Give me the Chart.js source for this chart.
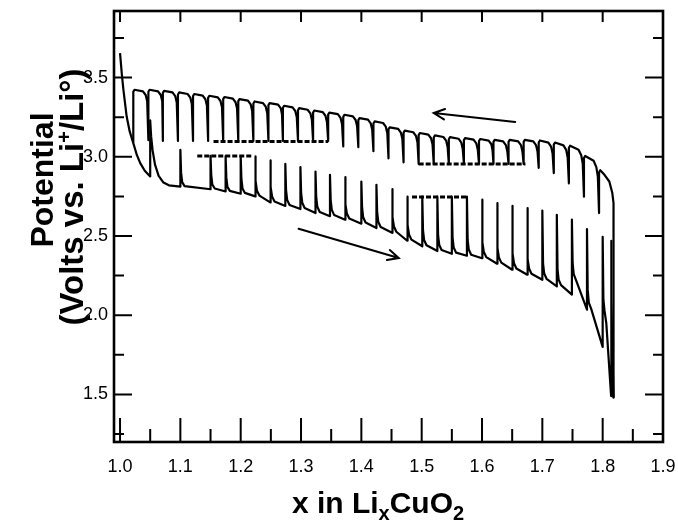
<!DOCTYPE html>
<html>
<head>
<meta charset="utf-8">
<script src="https://cdn.jsdelivr.net/npm/chart.js@4.4.1/dist/chart.umd.min.js"></script>
<style>
html, body { margin: 0; padding: 0; background: #fff; }
#wrap { width: 678px; height: 528px; }
</style>
</head>
<body>
<div id="wrap"><canvas id="myChart" width="678" height="528"></canvas></div>
<script>
// discharge (x going up): [x, volts]
var dischargePts = [
    [1.0,3.654],[1.003,3.52],[1.0056,3.423],[1.011,3.254],[1.016,3.16],[1.022,3.086],[1.028,3.01],[1.0335,2.96],[1.041,2.912],[1.050,2.876],
    [1.050,3.23],[1.0515,3.13],[1.054,3.04],[1.058,2.95],[1.064,2.88],[1.072,2.837],[1.081,2.82],[1.100,2.812],
    [1.100,3.044],[1.1012,2.90],[1.103,2.84],[1.107,2.815],[1.150,2.795],
    [1.150,3.006],[1.1512,2.885],[1.153,2.825],[1.157,2.80],[1.175,2.781],
    [1.175,3.005],[1.1762,2.87],[1.178,2.81],[1.182,2.785],[1.200,2.767],
    [1.200,3.005],[1.2012,2.86],[1.203,2.80],[1.207,2.772],[1.224,2.75],
    [1.224,3.002],[1.2252,2.85],[1.227,2.785],[1.231,2.755],[1.249,2.712],
    [1.249,2.977],[1.2502,2.81],[1.252,2.75],[1.256,2.718],[1.274,2.69],
    [1.274,2.956],[1.2752,2.79],[1.277,2.728],[1.281,2.696],[1.299,2.67],
    [1.299,2.935],[1.3002,2.77],[1.302,2.71],[1.306,2.677],[1.324,2.645],
    [1.324,2.907],[1.3252,2.745],[1.327,2.685],[1.331,2.652],[1.348,2.625],
    [1.348,2.886],[1.3492,2.725],[1.351,2.665],[1.355,2.632],[1.373,2.603],
    [1.373,2.872],[1.3742,2.70],[1.376,2.642],[1.380,2.61],[1.400,2.578],
    [1.400,2.844],[1.4012,2.68],[1.403,2.618],[1.407,2.585],[1.425,2.55],
    [1.425,2.823],[1.4262,2.65],[1.428,2.59],[1.432,2.557],[1.451,2.52],
    [1.451,2.796],[1.4522,2.62],[1.454,2.56],[1.458,2.527],[1.476,2.47],
    [1.476,2.748],[1.4772,2.57],[1.479,2.51],[1.483,2.477],[1.501,2.435],
    [1.501,2.748],[1.5022,2.535],[1.504,2.475],[1.508,2.442],[1.526,2.405],
    [1.526,2.748],[1.5272,2.505],[1.529,2.445],[1.533,2.412],[1.550,2.388],
    [1.550,2.748],[1.5512,2.49],[1.553,2.428],[1.557,2.395],[1.575,2.375],
    [1.575,2.748],[1.5762,2.475],[1.578,2.415],[1.582,2.382],[1.600,2.36],
    [1.600,2.729],[1.6012,2.46],[1.603,2.40],[1.607,2.367],[1.625,2.325],
    [1.625,2.708],[1.6262,2.425],[1.628,2.365],[1.632,2.332],[1.650,2.287],
    [1.650,2.691],[1.6512,2.39],[1.653,2.328],[1.657,2.295],[1.675,2.256],
    [1.675,2.676],[1.6762,2.355],[1.678,2.295],[1.682,2.262],[1.700,2.224],
    [1.700,2.661],[1.7012,2.325],[1.703,2.265],[1.707,2.23],[1.724,2.182],
    [1.724,2.634],[1.7252,2.29],[1.727,2.225],[1.731,2.19],[1.749,2.13],
    [1.749,2.603],[1.7502,2.33],[1.752,2.26],[1.756,2.22],[1.774,2.035],
    [1.774,2.544],[1.7752,2.16],[1.777,2.08],[1.781,2.04],[1.800,1.80],
    [1.800,2.495],[1.8012,2.10],[1.803,2.03],[1.806,1.95],[1.814,1.49],
    [1.814,2.47],[1.8148,2.10],[1.816,1.80],[1.818,1.48]
];

// charge (x going down), listed left to right: [x, volts]
var chargePts = [
    [1.022,3.09],[1.022,3.41],[1.024,3.423],[1.038,3.413],[1.0425,3.39],[1.045,3.35],
    [1.047,3.105],[1.047,3.41],[1.049,3.423],[1.063,3.413],[1.0675,3.39],[1.070,3.35],
    [1.071,3.10],[1.071,3.403],[1.073,3.416],[1.087,3.406],[1.0915,3.383],[1.094,3.343],
    [1.096,3.10],[1.096,3.393],[1.098,3.406],[1.112,3.396],[1.1165,3.373],[1.119,3.333],
    [1.121,3.10],[1.121,3.383],[1.123,3.396],[1.137,3.386],[1.1415,3.363],[1.144,3.323],
    [1.146,3.10],[1.146,3.372],[1.148,3.385],[1.162,3.375],[1.1665,3.352],[1.169,3.312],
    [1.171,3.10],[1.171,3.364],[1.173,3.377],[1.187,3.367],[1.1915,3.344],[1.194,3.304],
    [1.196,3.10],[1.196,3.351],[1.198,3.364],[1.212,3.354],[1.2165,3.331],[1.219,3.291],
    [1.221,3.10],[1.221,3.336],[1.223,3.349],[1.237,3.339],[1.2415,3.316],[1.244,3.276],
    [1.246,3.10],[1.246,3.326],[1.248,3.339],[1.262,3.329],[1.2665,3.306],[1.2685,3.266],
    [1.270,3.10],[1.270,3.309],[1.272,3.322],[1.286,3.312],[1.2905,3.289],[1.293,3.249],
    [1.295,3.10],[1.295,3.294],[1.297,3.307],[1.311,3.297],[1.3155,3.274],[1.318,3.234],
    [1.320,3.10],[1.320,3.279],[1.322,3.292],[1.336,3.282],[1.3405,3.259],[1.343,3.219],
    [1.345,3.10],[1.345,3.266],[1.347,3.279],[1.361,3.269],[1.3655,3.246],[1.368,3.206],
    [1.370,3.065],[1.370,3.252],[1.372,3.265],[1.386,3.255],[1.3905,3.232],[1.393,3.192],
    [1.395,3.06],[1.395,3.231],[1.397,3.244],[1.411,3.234],[1.4155,3.211],[1.418,3.171],
    [1.420,3.035],[1.420,3.21],[1.422,3.223],[1.436,3.213],[1.4405,3.19],[1.443,3.15],
    [1.445,2.99],[1.445,3.173],[1.447,3.186],[1.461,3.176],[1.4655,3.153],[1.468,3.113],
    [1.470,2.965],[1.470,3.152],[1.472,3.165],[1.486,3.155],[1.4905,3.132],[1.493,3.092],
    [1.495,2.955],[1.495,3.137],[1.497,3.15],[1.511,3.14],[1.5155,3.117],[1.518,3.077],
    [1.520,2.955],[1.520,3.122],[1.522,3.135],[1.536,3.125],[1.5405,3.102],[1.543,3.062],
    [1.545,2.955],[1.545,3.111],[1.547,3.124],[1.561,3.114],[1.5655,3.091],[1.568,3.051],
    [1.570,2.955],[1.570,3.105],[1.572,3.118],[1.586,3.108],[1.5905,3.085],[1.593,3.045],
    [1.595,2.955],[1.595,3.099],[1.597,3.112],[1.611,3.102],[1.6155,3.079],[1.6175,3.039],
    [1.619,2.955],[1.619,3.094],[1.621,3.107],[1.635,3.097],[1.6395,3.074],[1.642,3.034],
    [1.644,2.955],[1.644,3.094],[1.646,3.107],[1.660,3.097],[1.6645,3.074],[1.667,3.034],
    [1.669,2.955],[1.669,3.094],[1.671,3.107],[1.685,3.097],[1.6895,3.074],[1.692,3.034],
    [1.694,2.93],[1.694,3.09],[1.696,3.103],[1.710,3.089],[1.7145,3.064],[1.717,3.02],
    [1.719,2.897],[1.719,3.077],[1.721,3.09],[1.735,3.072],[1.7395,3.044],[1.742,2.995],
    [1.744,2.832],[1.744,3.057],[1.746,3.07],[1.760,3.045],[1.7645,3.01],[1.767,2.955],
    [1.769,2.748],[1.769,2.992],[1.771,3.005],[1.785,2.975],[1.7895,2.935],[1.792,2.875],
    [1.794,2.645],[1.794,2.902],[1.796,2.915],[1.803,2.886],[1.811,2.844],[1.816,2.771],
    [1.818,2.708],[1.818,1.48]
];

// dashed guide lines: x from, x to, volts
var guideFromX = [1.155, 1.128, 1.495, 1.484];
var guideToX   = [1.345, 1.219, 1.672, 1.576];
var guideV     = [3.097, 3.005, 2.955, 2.746];

// arrows: tail -> head
var arrowTailX = [1.655, 1.296];
var arrowTailV = [3.220, 2.546];
var arrowHeadX = [1.520, 1.462];
var arrowHeadV = [3.276, 2.361];

var xTicks = [1.0, 1.1, 1.2, 1.3, 1.4, 1.5, 1.6, 1.7, 1.8, 1.9];
var xMinor = [1.05, 1.15, 1.25, 1.35, 1.45, 1.55, 1.65, 1.75, 1.85];
var yTicks = [1.5, 2.0, 2.5, 3.0, 3.5];
var yMinor = [1.25, 1.75, 2.25, 2.75, 3.25, 3.75];

function toXY(pts) {
    return pts.map(function(p) { return {x: p[0], y: p[1]}; });
}

var datasets = [
    {data: toXY(dischargePts)},
    {data: toXY(chargePts)}
];
for (var i = 0; i < guideV.length; i++) {
    datasets.push({
        data: [{x: guideFromX[i], y: guideV[i]}, {x: guideToX[i], y: guideV[i]}],
        borderWidth: 3, borderDash: [5, 2], borderCapStyle: 'butt'
    });
}
datasets.forEach(function(d) {
    d.showLine = true;
    d.pointRadius = 0;
    d.borderColor = '#000';
    d.borderWidth = d.borderWidth || 2.2;
    d.borderJoinStyle = 'round';
    d.tension = 0;
    d.fill = false;
});

var tickFont = {family: "'Liberation Sans', Arial, sans-serif", size: 18};

function drawPieces(c, pieces, x, y) {
    var total = 0;
    pieces.forEach(function(p) { c.font = p[1]; total += c.measureText(p[0]).width; });
    var cx = x - total / 2;
    pieces.forEach(function(p) {
        c.font = p[1];
        c.fillText(p[0], cx, y + p[2]);
        cx += c.measureText(p[0]).width;
    });
}

var decor = {
    id: 'decor',
    afterDraw: function(chart) {
        var c = chart.ctx, a = chart.chartArea;
        var xs = chart.scales.x, ys = chart.scales.y;
        c.save();
        c.strokeStyle = '#000';
        c.fillStyle = '#000';

        // ticks pointing inwards on all four sides
        c.lineWidth = 2;
        c.beginPath();
        xTicks.forEach(function(v) {
            var px = xs.getPixelForValue(v);
            c.moveTo(px, a.bottom); c.lineTo(px, a.bottom - 24);
            c.moveTo(px, a.top); c.lineTo(px, a.top + 11);
        });
        xMinor.forEach(function(v) {
            var px = xs.getPixelForValue(v);
            c.moveTo(px, a.bottom); c.lineTo(px, a.bottom - 13);
        });
        yTicks.forEach(function(v) {
            var py = ys.getPixelForValue(v);
            c.moveTo(a.left, py); c.lineTo(a.left + 18, py);
            c.moveTo(a.right, py); c.lineTo(a.right - 18, py);
        });
        yMinor.forEach(function(v) {
            var py = ys.getPixelForValue(v);
            c.moveTo(a.left, py); c.lineTo(a.left + 10, py);
            c.moveTo(a.right, py); c.lineTo(a.right - 10, py);
        });
        c.stroke();

        // frame
        c.lineWidth = 2.6;
        c.strokeRect(a.left, a.top, a.right - a.left, a.bottom - a.top);

        // arrows
        c.lineWidth = 2;
        c.lineCap = 'round';
        for (var i = 0; i < arrowTailX.length; i++) {
            var x0 = xs.getPixelForValue(arrowTailX[i]), y0 = ys.getPixelForValue(arrowTailV[i]);
            var x1 = xs.getPixelForValue(arrowHeadX[i]), y1 = ys.getPixelForValue(arrowHeadV[i]);
            var ang = Math.atan2(y1 - y0, x1 - x0);
            c.beginPath();
            c.moveTo(x0, y0); c.lineTo(x1, y1);
            c.moveTo(x1 - 12 * Math.cos(ang - 0.45), y1 - 12 * Math.sin(ang - 0.45));
            c.lineTo(x1, y1);
            c.lineTo(x1 - 12 * Math.cos(ang + 0.45), y1 - 12 * Math.sin(ang + 0.45));
            c.stroke();
        }

        // axis titles
        var big = "bold 30px 'Liberation Sans', Arial, sans-serif";
        var small = "bold 20px 'Liberation Sans', Arial, sans-serif";
        c.textAlign = 'left';
        c.textBaseline = 'alphabetic';
        drawPieces(c, [['x in Li', big, 0], ['x', small, 7], ['CuO', big, 0], ['2', small, 7]], 378, 513);

        var bigY = "bold 32px 'Liberation Sans', Arial, sans-serif";
        var bigY2 = "bold 33px 'Liberation Sans', Arial, sans-serif";
        var smallY = "bold 20px 'Liberation Sans', Arial, sans-serif";
        c.save();
        c.translate(53, 180);
        c.rotate(-Math.PI / 2);
        drawPieces(c, [['Potential', bigY, 0]], 0, 0);
        c.restore();
        c.save();
        c.translate(83, 197);
        c.rotate(-Math.PI / 2);
        drawPieces(c, [['(Volts vs. Li', bigY2, 0], ['+', smallY, -12], ['/Li', bigY2, 0], ['\u00b0', bigY2, 0], [')', bigY2, 0]], 0, 0);
        c.restore();

        c.restore();
    }
};

var ctx = document.getElementById('myChart').getContext('2d');
var chart = new Chart(ctx, {
    type: 'scatter',
    data: {datasets: datasets},
    options: {
        responsive: false,
        animation: false,
        layout: {padding: {top: 11, right: 15, left: 0, bottom: 0}},
        plugins: {legend: {display: false}, tooltip: {enabled: false}},
        scales: {
            x: {
                type: 'linear', min: 0.99, max: 1.9,
                grid: {display: false, drawTicks: false},
                border: {display: false},
                afterBuildTicks: function(s) { s.ticks = xTicks.map(function(v) { return {value: v}; }); },
                afterFit: function(s) { s.height = 86; s.paddingLeft = 0; s.paddingRight = 0; },
                ticks: {
                    padding: 14, color: '#000', font: tickFont, maxRotation: 0, autoSkip: false,
                    callback: function(v) { return Number(v).toFixed(1); }
                }
            },
            y: {
                type: 'linear', min: 1.2, max: 3.92,
                grid: {display: false, drawTicks: false},
                border: {display: false},
                afterBuildTicks: function(s) { s.ticks = yTicks.map(function(v) { return {value: v}; }); },
                afterFit: function(s) { s.width = 114; s.paddingTop = 0; s.paddingBottom = 0; },
                ticks: {
                    padding: 6, color: '#000', font: tickFont,
                    callback: function(v) { return Number(v).toFixed(1); }
                }
            }
        }
    },
    plugins: [decor]
});
</script>
</body>
</html>
